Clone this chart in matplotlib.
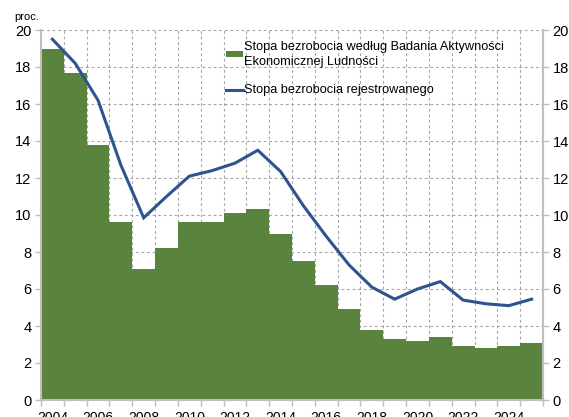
import matplotlib
matplotlib.use("Agg")
import matplotlib.pyplot as plt
from matplotlib.patches import Patch
from matplotlib.lines import Line2D
import numpy as np

plt.rcParams['font.family'] = ['Liberation Sans', 'DejaVu Sans']

years = list(range(2004, 2026))
bael = [19.0, 17.7, 13.8, 9.6, 7.1, 8.2, 9.6, 9.6, 10.1, 10.3, 9.0, 7.5,
        6.2, 4.9, 3.8, 3.3, 3.2, 3.4, 2.9, 2.8, 2.9, 3.1]
registered = [19.5, 18.2, 16.2, 12.7, 9.85, 11.0, 12.1, 12.4, 12.8, 13.5, 12.35, 10.5,
              8.85, 7.3, 6.1, 5.45, 6.0, 6.4, 5.4, 5.2, 5.1, 5.45]
year_labels = [str(y) if y % 2 == 0 else '' for y in years]
label_bael = 'Stopa bezrobocia według Badania Aktywności\nEkonomicznej Ludności'
label_reg = 'Stopa bezrobocia rejestrowanego'
unit = 'proc.'

green = '#5A843D'
blue = '#2E5490'
gray = '#BFBFBF'
grid_gray = '#A6A6A6'

fig = plt.figure(figsize=(5.69, 4.17), dpi=100)
ax = fig.add_axes([41/569, 17/417, 502/569, 370/417])
x = np.arange(len(years))
ax.bar(x, bael, width=1.0, color=green, edgecolor='none', zorder=2)
ax.plot(x, registered, color=blue, lw=2.2, zorder=3, solid_joinstyle='miter')

ax.set_xlim(-0.5, len(years) - 0.5)
ax.set_ylim(0, 20)
ax.set_yticks(np.arange(0, 21, 2))
ax.set_xticks(x)
ax.set_xticklabels(year_labels)
ax.tick_params(axis='x', which='major', length=0, pad=8, labelsize=10)
ax.set_xticks(np.arange(-0.5, len(years), 1.0), minor=True)
ax.tick_params(axis='x', which='minor', length=4, color=gray, width=1)
ax.tick_params(axis='y', length=4, color=gray, width=1, labelsize=10.5, pad=3)
ax.grid(True, axis='y', linestyle=(0, (2.5, 2.5)), color=grid_gray, lw=0.8, zorder=1)
ax.grid(True, axis='x', which='minor', linestyle=(0, (2.5, 2.5)), color=grid_gray, lw=0.8, zorder=1)
ax.set_axisbelow(True)
ax.spines['top'].set_visible(False)
for s in ['left', 'right', 'bottom']:
    ax.spines[s].set_color(gray)
    ax.spines[s].set_linewidth(1.5)

ax2 = ax.twinx()
ax2.set_ylim(0, 20)
ax2.set_yticks(np.arange(0, 21, 2))
ax2.tick_params(axis='y', length=4, color=gray, width=1, labelsize=10.5, pad=3)
for s in ['top', 'left', 'bottom']:
    ax2.spines[s].set_visible(False)
ax2.spines['right'].set_color(gray)
ax2.spines['right'].set_linewidth(1.5)

handles = [Patch(facecolor=green, edgecolor='none'),
           Line2D([0], [0], color=blue, lw=2.2)]
leg = ax.legend(handles, [label_bael, label_reg], loc='upper left',
                bbox_to_anchor=(0.358, 0.985), frameon=False, fontsize=9.2,
                handlelength=1.35, handleheight=0.4, handletextpad=0.1,
                labelspacing=1.3, borderaxespad=0)
leg.get_texts()[0].set_linespacing(1.35)

fig.text(14/569, 1 - 17/417, unit, fontsize=8, va='center', ha='left')

fig.savefig('out.png', dpi=100)
